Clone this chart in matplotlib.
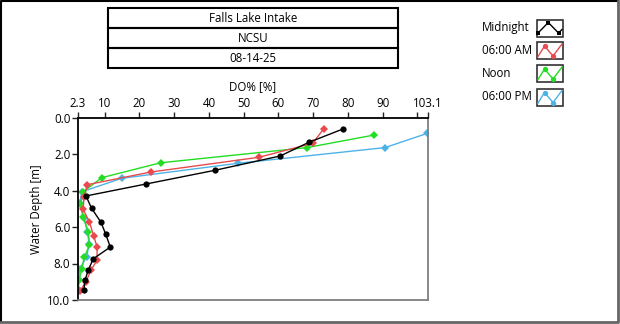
import matplotlib
matplotlib.use('Agg')
import matplotlib.pyplot as plt
from matplotlib.patches import Rectangle
from matplotlib.lines import Line2D

plt.rcParams['font.family'] = ['Open Sans', 'DejaVu Sans']

# Profile data: depth [m] and DO% per time of day
depth_midnight = [0.63, 1.36, 2.11, 2.89, 3.64, 4.30, 4.97, 5.74, 6.40, 7.10, 7.74, 8.34, 8.92, 9.45]
do_midnight = [78.6, 68.8, 60.5, 41.8, 22.0, 4.6, 6.2, 8.9, 10.3, 11.6, 6.7, 5.3, 4.3, 4.0]

depth_6am = [0.61, 1.41, 2.18, 2.99, 3.68, 4.37, 5.03, 5.74, 6.48, 7.10, 7.81, 8.38, 9.00, 9.50]
do_6am = [73.1, 69.9, 54.4, 23.2, 5.0, 4.0, 3.8, 5.6, 6.8, 7.8, 7.8, 6.0, 4.6, 2.9]

depth_noon = [0.96, 1.65, 2.48, 3.30, 4.07, 4.75, 5.47, 6.26, 6.99, 7.66, 8.32, 8.92, 9.45]
do_noon = [87.6, 68.2, 26.1, 9.1, 3.8, 3.0, 3.8, 5.3, 5.6, 4.1, 3.4, 2.6, 2.4]

depth_6pm = [0.87, 1.65, 2.51, 3.33, 4.07, 4.70, 5.50, 6.26, 6.95, 7.62, 8.30, 8.90, 9.40]
do_6pm = [102.9, 90.7, 48.3, 14.9, 3.4, 2.8, 4.0, 5.0, 5.5, 4.8, 2.8, 2.5, 2.3]

series_names = ['Midnight', '06:00 AM', 'Noon', '06:00 PM']
series_colors = ['#000000', '#e84a4d', '#22dd22', '#4db2e6']

x_ticks = [2.3, 10, 20, 30, 40, 50, 60, 70, 80, 90, 100, 103.1]
x_ticklabels = ['2.3', '10', '20', '30', '40', '50', '60', '70', '80', '90', '', '103.1']
y_ticks = [0, 2, 4, 6, 8, 10]

title_lines = ['Falls Lake Intake', 'NCSU', '08-14-25']

W, H = 620, 324
fig = plt.figure(figsize=(W / 100, H / 100), dpi=100)
fig.patch.set_facecolor('white')

# main axes in pixel placement
left, right, top, bottom = 78, 428, 117.5, 300
ax = fig.add_axes([left / W, 1 - bottom / H, (right - left) / W, (bottom - top) / H])

data = [(do_6pm, depth_6pm, 3), (do_noon, depth_noon, 2),
        (do_6am, depth_6am, 1), (do_midnight, depth_midnight, 0)]
for xs, ys, i in data:
    marker = 'o' if i == 0 else 'D'
    ms = 4.5 if i == 0 else 4
    ax.plot(xs, ys, color=series_colors[i], linewidth=1, marker=marker,
            markersize=ms, markeredgewidth=0, label=series_names[i])

ax.set_xlim(2.3, 103.1)
ax.set_ylim(10, 0)
ax.xaxis.tick_top()
ax.xaxis.set_label_position('top')
ax.set_xticks(x_ticks)
ax.set_xticklabels(x_ticklabels)
ax.set_yticks(y_ticks)
ax.set_yticklabels([f'{v:.1f}' for v in y_ticks])
ax.tick_params(axis='both', labelsize=8.3, length=4, width=1, color='#222222', pad=1.5)
ax.set_xlabel('DO% [%]', fontsize=8.3, labelpad=5)
ax.set_ylabel('Water Depth [m]', fontsize=8.3, labelpad=3)
for sp in ['left', 'top']:
    ax.spines[sp].set_color('black')
    ax.spines[sp].set_linewidth(1.3)
for sp in ['right', 'bottom']:
    ax.spines[sp].set_color('#7f7f7f')
    ax.spines[sp].set_linewidth(1.3)

# overlay in pixel coordinates for title boxes, legend and frame
ov = fig.add_axes([0, 0, 1, 1], zorder=5)
ov.set_xlim(0, W)
ov.set_ylim(H, 0)
ov.axis('off')
ov.patch.set_alpha(0)

box_x0, box_x1 = 108, 398
box_tops = [8, 28, 48]
for t, txt in zip(box_tops, title_lines):
    ov.add_patch(Rectangle((box_x0, t), box_x1 - box_x0, 20, fill=False,
                           edgecolor='black', linewidth=1.5))
    ov.text((box_x0 + box_x1) / 2, t + 10.5, txt, ha='center', va='center', fontsize=8.3)

# legend
leg_tops = [19.5, 42, 65, 88.5]
for i, (name, col) in enumerate(zip(series_names, series_colors)):
    t = leg_tops[i]
    ov.text(482, t + 8.5, name, ha='left', va='center', fontsize=8.3)
    ov.add_patch(Rectangle((537, t), 26, 17, fill=False, edgecolor='#333333', linewidth=1.2))
    if i == 0:
        px = [538, 548.3, 558.5, 562]
        py = [t + 13.5, t + 3, t + 13.5, t + 10]
        ov.add_line(Line2D(px, py, color=col, linewidth=1))
        ov.add_line(Line2D(px[:3], py[:3], color=col, linestyle='none', marker='s', markersize=3.5,
                           markeredgewidth=0))
    else:
        px = [538, 544.5, 553, 562]
        py = [t + 14.5, t + 4, t + 14, t + 2]
        ov.add_line(Line2D(px, py, color=col, linewidth=1))
        ov.add_line(Line2D(px[1:3], py[1:3], color=col, linestyle='none', marker='o', markersize=3.8,
                           markeredgewidth=0))

# outer sunken frame
ov.add_line(Line2D([0.5, 0.5, 618], [322, 0.5, 0.5], color='black', linewidth=1.5))
ov.add_line(Line2D([0.5, 618, 618], [322, 322, 0.5], color='#666666', linewidth=2))

fig.savefig('out.png', dpi=100, facecolor='white')
